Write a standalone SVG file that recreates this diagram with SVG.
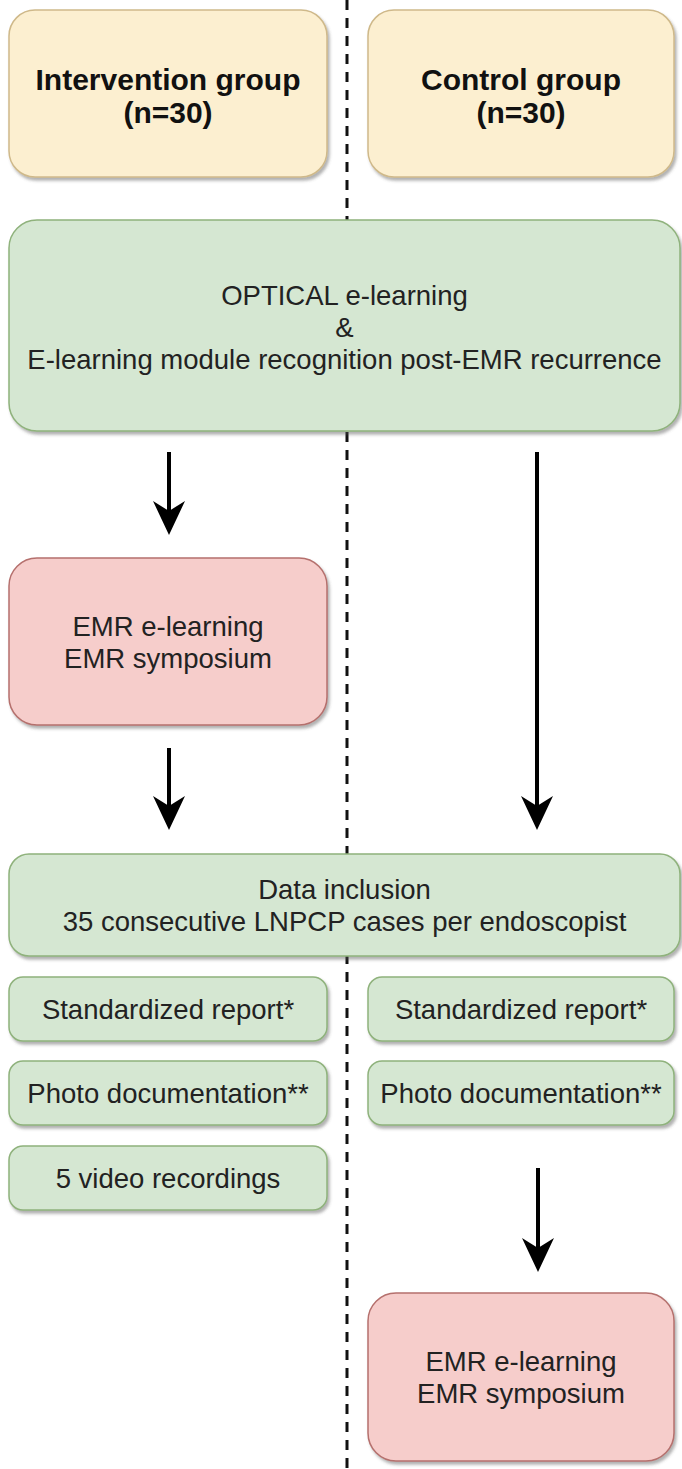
<svg xmlns="http://www.w3.org/2000/svg" width="682" height="1469" viewBox="0 0 682 1469">
<defs>
<filter id="sh" x="-5%" y="-5%" width="115%" height="120%">
<feDropShadow dx="2" dy="3" stdDeviation="1.5" flood-color="#555" flood-opacity="0.45"/>
</filter>
<marker id="ah" viewBox="0 0 34 32" refX="14" refY="16" markerWidth="34" markerHeight="32" markerUnits="userSpaceOnUse" orient="auto">
<path d="M0,0 L34,16 L0,32 L10,16 Z" fill="#000"/>
</marker>
</defs>
<style>
.y{fill:#fcefd0;stroke:#cfb98a;stroke-width:1.5;filter:url(#sh)}
.g{fill:#d5e7d2;stroke:#8fb27c;stroke-width:1.5;filter:url(#sh)}
.r{fill:#f6cdcb;stroke:#b5706d;stroke-width:1.5;filter:url(#sh)}
text{font-family:"Liberation Sans",Arial,sans-serif;font-size:27.5px;fill:#222;text-anchor:middle}
.b{font-weight:bold;font-size:30px;fill:#111}
.c{stroke:#000;stroke-width:4;fill:none}
.d{stroke:#111;stroke-width:3;stroke-dasharray:10 8;fill:none}
</style>
<line class="d" x1="347" y1="0" x2="347" y2="1469"/>
<g id="intervention">
<rect class="y" x="9" y="10" width="318" height="167" rx="26"/>
<text class="b" x="168" y="90">Intervention group</text>
<text class="b" x="168" y="123">(n=30)</text>
</g>
<g id="control">
<rect class="y" x="368" y="10" width="306" height="167" rx="26"/>
<text class="b" x="521" y="90">Control group</text>
<text class="b" x="521" y="123">(n=30)</text>
</g>
<g id="optical">
<rect class="g" x="9" y="220" width="671" height="211" rx="28"/>
<text x="344.5" y="305">OPTICAL e-learning</text>
<text x="344.5" y="337">&amp;</text>
<text x="344.5" y="369">E-learning module recognition post-EMR recurrence</text>
</g>
<g id="emr-left">
<rect class="r" x="9" y="558" width="318" height="167" rx="28"/>
<text x="168" y="636">EMR e-learning</text>
<text x="168" y="668">EMR symposium</text>
</g>
<g id="data-inclusion">
<rect class="g" x="9" y="854" width="671" height="102" rx="20"/>
<text x="344.5" y="899">Data inclusion</text>
<text x="344.5" y="931">35 consecutive LNPCP cases per endoscopist</text>
</g>
<g id="std-left">
<rect class="g" x="9" y="977" width="318" height="64" rx="14"/>
<text x="168" y="1019">Standardized report*</text>
</g>
<g id="std-right">
<rect class="g" x="368" y="977" width="306" height="64" rx="14"/>
<text x="521" y="1019">Standardized report*</text>
</g>
<g id="photo-left">
<rect class="g" x="9" y="1061" width="318" height="64" rx="14"/>
<text x="168" y="1103">Photo documentation**</text>
</g>
<g id="photo-right">
<rect class="g" x="368" y="1061" width="306" height="64" rx="14"/>
<text x="521" y="1103">Photo documentation**</text>
</g>
<g id="video-left">
<rect class="g" x="9" y="1146" width="318" height="64" rx="14"/>
<text x="168" y="1188">5 video recordings</text>
</g>
<g id="emr-right">
<rect class="r" x="368" y="1293" width="306" height="168" rx="28"/>
<text x="521" y="1371">EMR e-learning</text>
<text x="521" y="1403">EMR symposium</text>
</g>
<g id="connectors">
<line class="c" x1="169" y1="452" x2="169" y2="515" marker-end="url(#ah)"/>
<line class="c" x1="537" y1="452" x2="537" y2="810" marker-end="url(#ah)"/>
<line class="c" x1="169" y1="748" x2="169" y2="810" marker-end="url(#ah)"/>
<line class="c" x1="538" y1="1168" x2="538" y2="1252" marker-end="url(#ah)"/>
</g>
</svg>
